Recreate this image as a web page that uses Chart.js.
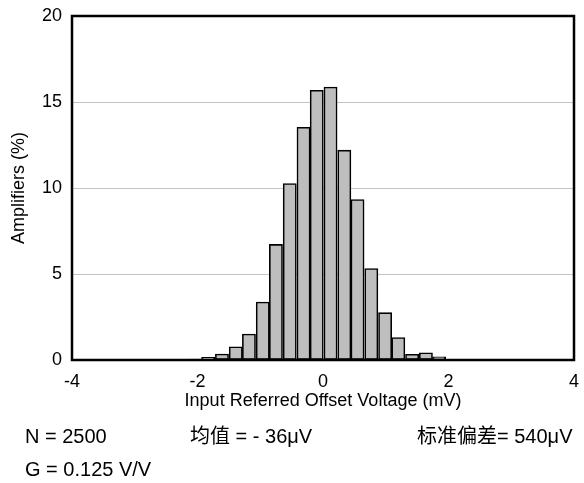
<!DOCTYPE html>
<html>
<head>
<meta charset="utf-8">
<script src="https://cdn.jsdelivr.net/npm/chart.js@4.4.1/dist/chart.umd.min.js"></script>
<style>
  html, body { margin: 0; padding: 0; background: #fff; }
  #wrap { width: 584px; height: 483px; position: relative; }
</style>
</head>
<body>
<div id="wrap"><canvas id="histChart" width="584" height="483"></canvas></div>
<script>
// ヒストグラムのビン中心 (mV) と各ビンの割合 (%)
const binCenters = [-2.69, -2.48, -2.26, -2.04, -1.83, -1.61, -1.39, -1.18, -0.96, -0.75, -0.53, -0.31,
                    -0.10, 0.12, 0.34, 0.55, 0.77, 0.99, 1.20, 1.42, 1.64, 1.85];
const percents = [0.04, 0, 0, 0.05, 0.16, 0.35, 0.77, 1.51, 3.37, 6.72, 10.26, 13.53,
                  15.68, 15.87, 12.2, 9.33, 5.32, 2.75, 1.31, 0.33, 0.42, 0.18];

// 軸の目盛り
const xTicks = [-4, -2, 0, 2, 4];
const yTicks = [0, 5, 10, 15, 20];

// 統計情報 (グラフ下のテキスト)
const statsRow1 = ['N = 2500', '均值 = - 36μV', '标准偏差= 540μV'];
const statsRow2 = ['G = 0.125 V/V'];

const FONT = "'Liberation Sans', Arial, sans-serif";
const CJK_FONT = "'Liberation Sans', 'Noto Sans CJK SC', sans-serif";

const points = binCenters.map((x, i) => ({ x: x, y: percents[i] }));

// プロット枠を描く
const framePlugin = {
    id: 'frame',
    afterDatasetsDraw(chart) {
        const { ctx, chartArea: a } = chart;
        ctx.save();
        ctx.strokeStyle = '#000';
        ctx.lineWidth = 2.5;
        ctx.strokeRect(a.left, a.top, a.right - a.left, a.bottom - a.top);
        ctx.restore();
    }
};

// 統計テキストを描く
const statsPlugin = {
    id: 'stats',
    afterDraw(chart) {
        const ctx = chart.ctx;
        ctx.save();
        ctx.fillStyle = '#000';
        ctx.font = '20px ' + CJK_FONT;
        ctx.textBaseline = 'middle';
        ctx.textAlign = 'left';
        ctx.fillText(statsRow1[0], 25, 437);
        ctx.fillText(statsRow1[1], 190, 437);
        ctx.fillText(statsRow1[2], 417, 437);
        ctx.fillText(statsRow2[0], 25, 470);
        ctx.restore();
    }
};

const ctx = document.getElementById('histChart').getContext('2d');

const histChart = new Chart(ctx, {
    type: 'bar',
    data: {
        datasets: [{
            data: points,
            backgroundColor: '#bebebe',
            borderColor: '#000',
            borderWidth: 1.6,
            borderSkipped: false,
            barPercentage: 1.0,
            categoryPercentage: 1.0
        }]
    },
    options: {
        responsive: false,
        animation: false,
        events: [],
        layout: { padding: { left: 0, top: 16, right: 10, bottom: 71 } },
        plugins: {
            legend: { display: false },
            tooltip: { enabled: false }
        },
        scales: {
            x: {
                type: 'linear',
                min: -4,
                max: 4,
                offset: false,
                afterBuildTicks(scale) {
                    scale.ticks = xTicks.map(v => ({ value: v }));
                },
                // 軸ラベルによる余白を使わず、描画領域を固定する
                afterFit(scale) {
                    scale.height = 52;
                    scale.paddingLeft = 0;
                    scale.paddingRight = 0;
                },
                grid: { display: false, drawTicks: false, offset: false },
                border: { display: false },
                ticks: {
                    color: '#000',
                    font: { family: FONT, size: 18 },
                    padding: 11,
                    maxRotation: 0
                },
                title: {
                    display: true,
                    text: 'Input Referred Offset Voltage (mV)',
                    color: '#000',
                    font: { family: FONT, size: 18 },
                    padding: { top: 0, bottom: 0 }
                }
            },
            y: {
                min: 0,
                max: 20,
                afterBuildTicks(scale) {
                    scale.ticks = yTicks.map(v => ({ value: v }));
                },
                afterFit(scale) {
                    scale.width = 72;
                    scale.paddingTop = 0;
                    scale.paddingBottom = 0;
                },
                grid: {
                    color: '#c4c4c4',
                    lineWidth: 1,
                    drawTicks: false
                },
                border: { display: false },
                ticks: {
                    color: '#000',
                    font: { family: FONT, size: 18 },
                    padding: 10
                },
                title: {
                    display: true,
                    text: 'Amplifiers (%)',
                    color: '#000',
                    font: { family: FONT, size: 18 },
                    padding: { top: 8, bottom: 0 }
                }
            }
        }
    },
    plugins: [framePlugin, statsPlugin]
});
</script>
</body>
</html>
